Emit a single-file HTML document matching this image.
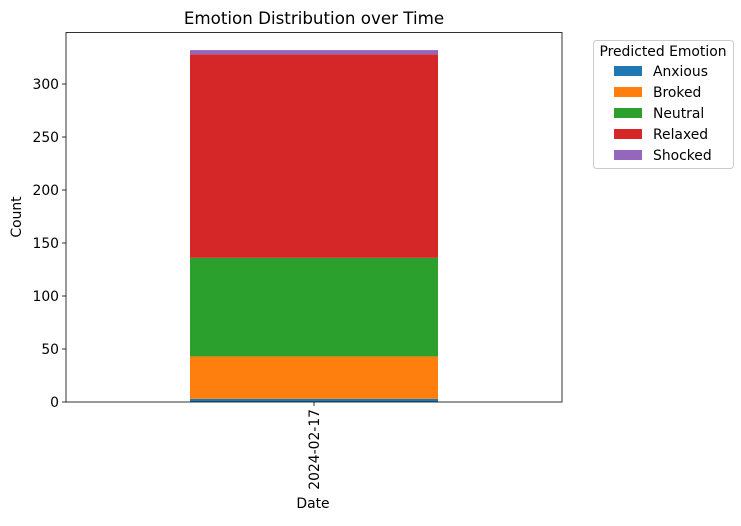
<!DOCTYPE html>
<html><head><meta charset="utf-8"><style>
body{margin:0;background:#fff;font-family:"Liberation Sans","DejaVu Sans",sans-serif;}
svg text{font-family:"DejaVu Sans","Liberation Sans",sans-serif;}
</style></head><body>
<svg id="c" width="741" height="521" xmlns="http://www.w3.org/2000/svg"></svg>
<script>
const categories = ["2024-02-17"];
const emotions = ["Anxious","Broked","Neutral","Relaxed","Shocked"];
const anxious = [3];
const broked = [40];
const neutral = [93];
const relaxed = [192];
const shocked = [4];
const yTicks = [0,50,100,150,200,250,300];
const colors = ["#1f77b4","#ff7f0e","#2ca02c","#d62728","#9467bd"];
const series = [anxious,broked,neutral,relaxed,shocked];

const svg = document.getElementById('c');
const NS = "http://www.w3.org/2000/svg";
const L=66,R=562,T=32.5,B=402;
const FS=13.9;
let totals = categories.map((_,i)=>series.reduce((s,a)=>s+a[i],0));
const yMax = Math.max(...totals)*1.05;
const y = v => B - v/yMax*(B-T);
const band = (R-L)/categories.length;
const xc = i => L + band*(i+0.5);
const barW = band*0.5;
function el(tag, attrs, name, text){
  const e=document.createElementNS(NS,tag);
  for(const k in attrs) e.setAttribute(k,attrs[k]);
  
  
  if(text!==undefined) e.textContent=text;
  svg.appendChild(e); return e;
}
categories.forEach((c,i)=>{
  let acc=0;
  series.forEach((s,k)=>{
    const v=s[i];
    el('rect',{x:xc(i)-barW/2,y:y(acc+v),width:barW,height:y(acc)-y(acc+v),fill:colors[k]},'bar-'+emotions[k].toLowerCase());
    acc+=v;
  });
  el('line',{x1:xc(i),x2:xc(i),y1:B,y2:B+4,stroke:'#000','stroke-width':0.8},'x-tick');
  el('text',{x:0,y:0,transform:`translate(${xc(i)+5},${B+7}) rotate(-90)`,'text-anchor':'end','font-size':FS},'x-tick-label',c);
});
yTicks.forEach(t=>{
  el('line',{x1:L-4,x2:L,y1:y(t),y2:y(t),stroke:'#000','stroke-width':0.8},'y-tick');
  el('text',{x:L-7,y:y(t)+5,'text-anchor':'end','font-size':FS},'y-tick-label',t);
});
el('rect',{x:L,y:T,width:R-L,height:B-T,fill:'none',stroke:'#000','stroke-width':0.8},'plot-frame');
el('text',{x:(L+R)/2,y:24,'text-anchor':'middle','font-size':16.7},'chart-title','Emotion Distribution over Time');
el('text',{x:313,y:508,'text-anchor':'middle','font-size':FS},'x-axis-title','Date');
el('text',{x:0,y:0,transform:'translate(21,217) rotate(-90)','text-anchor':'middle','font-size':FS},'y-axis-title','Count');
el('rect',{x:593.5,y:40.5,width:140,height:128,rx:3,fill:'#fff',stroke:'#ccc'},'legend-box');
el('text',{x:663,y:56,'text-anchor':'middle','font-size':FS},'legend-title','Predicted Emotion');
emotions.forEach((e,k)=>{
  const yy=66+k*21;
  el('rect',{x:614,y:yy,width:28,height:10,fill:colors[k]},'legend-swatch-'+e.toLowerCase());
  el('text',{x:653,y:yy+10,'font-size':FS},'legend-entry-'+e.toLowerCase(),e);
});
</script>
</body></html>
